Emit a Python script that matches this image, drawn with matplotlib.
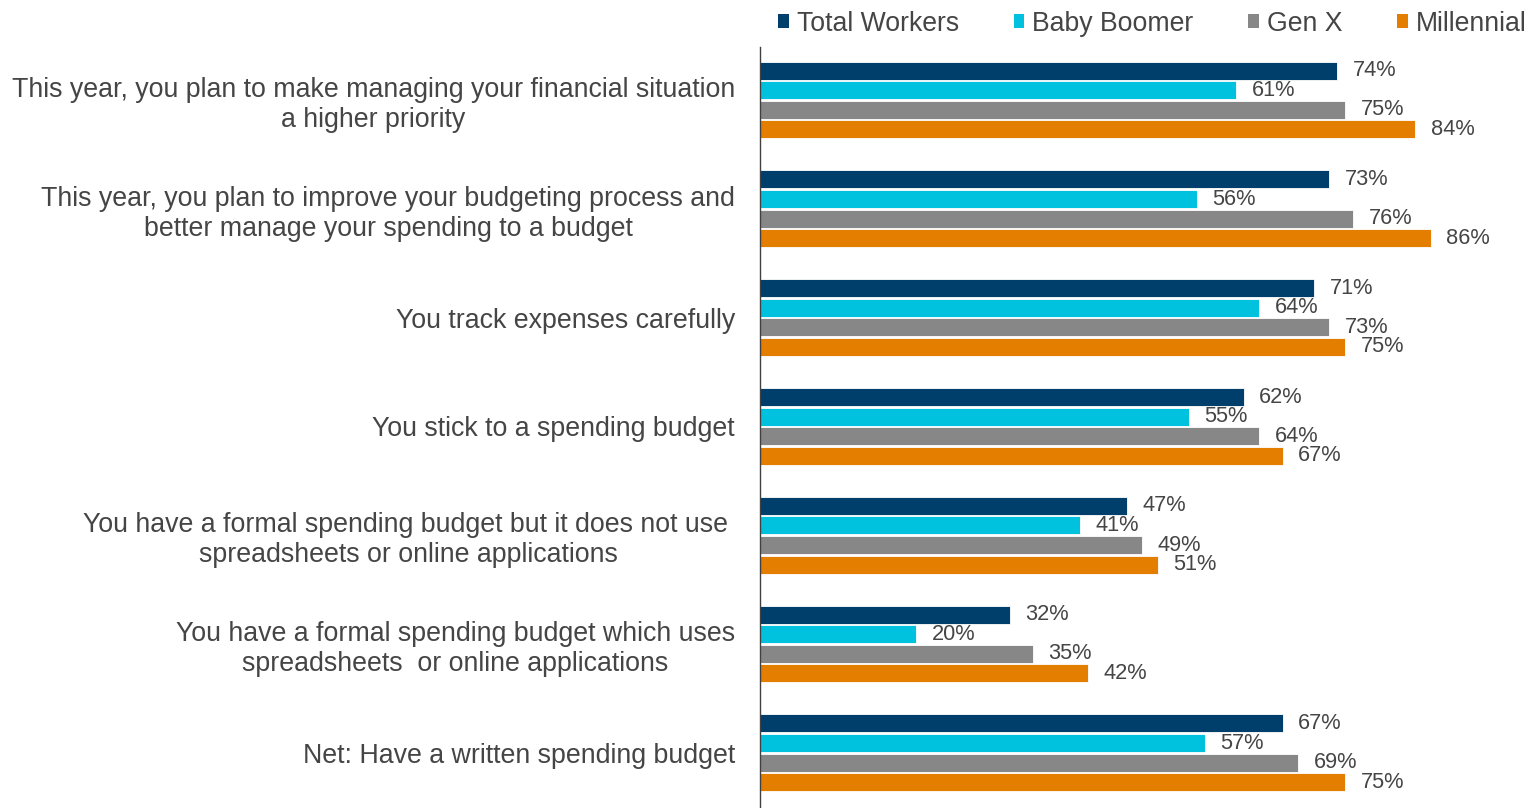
import numpy as np
import matplotlib
matplotlib.use("Agg")
from matplotlib import pyplot as plt
from matplotlib.patches import Patch

plt.rcParams['font.family'] = ['Liberation Sans', 'DejaVu Sans']

categories = [
    "This year, you plan to make managing your financial situation\na higher priority",
    "This year, you plan to improve your budgeting process and\nbetter manage your spending to a budget",
    "You track expenses carefully",
    "You stick to a spending budget",
    "You have a formal spending budget but it does not use \nspreadsheets or online applications",
    "You have a formal spending budget which uses\nspreadsheets  or online applications",
    "Net: Have a written spending budget",
]
series = ["Total Workers", "Baby Boomer", "Gen X", "Millennial"]
total_workers = [74, 73, 71, 62, 47, 32, 67]
baby_boomer = [61, 56, 64, 55, 41, 20, 57]
gen_x = [75, 76, 73, 64, 49, 35, 69]
millennial = [84, 86, 75, 67, 51, 42, 75]
colors = ["#003F6B", "#00C2DE", "#878787", "#E37E00"]

values = [total_workers, baby_boomer, gen_x, millennial]

fig = plt.figure(figsize=(15.28, 8.08), dpi=100)
ax = fig.add_axes([760 / 1528, 0, 768 / 1528, 1 - 47 / 808])

y = np.arange(len(categories))
step = 0.18
offsets = (np.arange(4) - 1.5) * step
for vals, off, col in zip(values, offsets, colors):
    bars = ax.barh(y + off, vals, height=0.165, color=col, edgecolor="white", linewidth=0.6)
    for b, v in zip(bars, vals):
        ax.text(v + 2.0, b.get_y() + b.get_height() / 2, f"{v}%", va="center", ha="left",
                fontsize=15.7, color="#454545")

ax.set_xlim(0, 768 / 7.8)
ax.set_ylim(6.507, -0.487)
ax.set_yticks(y)
ax.set_yticklabels(categories, fontsize=19.3, color="#454545", multialignment="center",
                   linespacing=1.2)
ax.tick_params(axis="y", length=0, pad=18)
ax.set_xticks([])
for s in ["top", "right", "bottom"]:
    ax.spines[s].set_visible(False)
ax.spines["left"].set_color("#404040")
ax.spines["left"].set_linewidth(1)

handles = [Patch(facecolor=c, label=s) for c, s in zip(colors, series)]
fig.legend(handles=handles, loc="upper right", bbox_to_anchor=(1.0 + 9 / 1528, 1.0), ncol=4,
           frameon=False, fontsize=19.2, handlelength=0.4, handleheight=0.4, handletextpad=0.3,
           columnspacing=2.05, borderaxespad=0.0, labelcolor="#454545")

fig.savefig("out.png", dpi=100)
